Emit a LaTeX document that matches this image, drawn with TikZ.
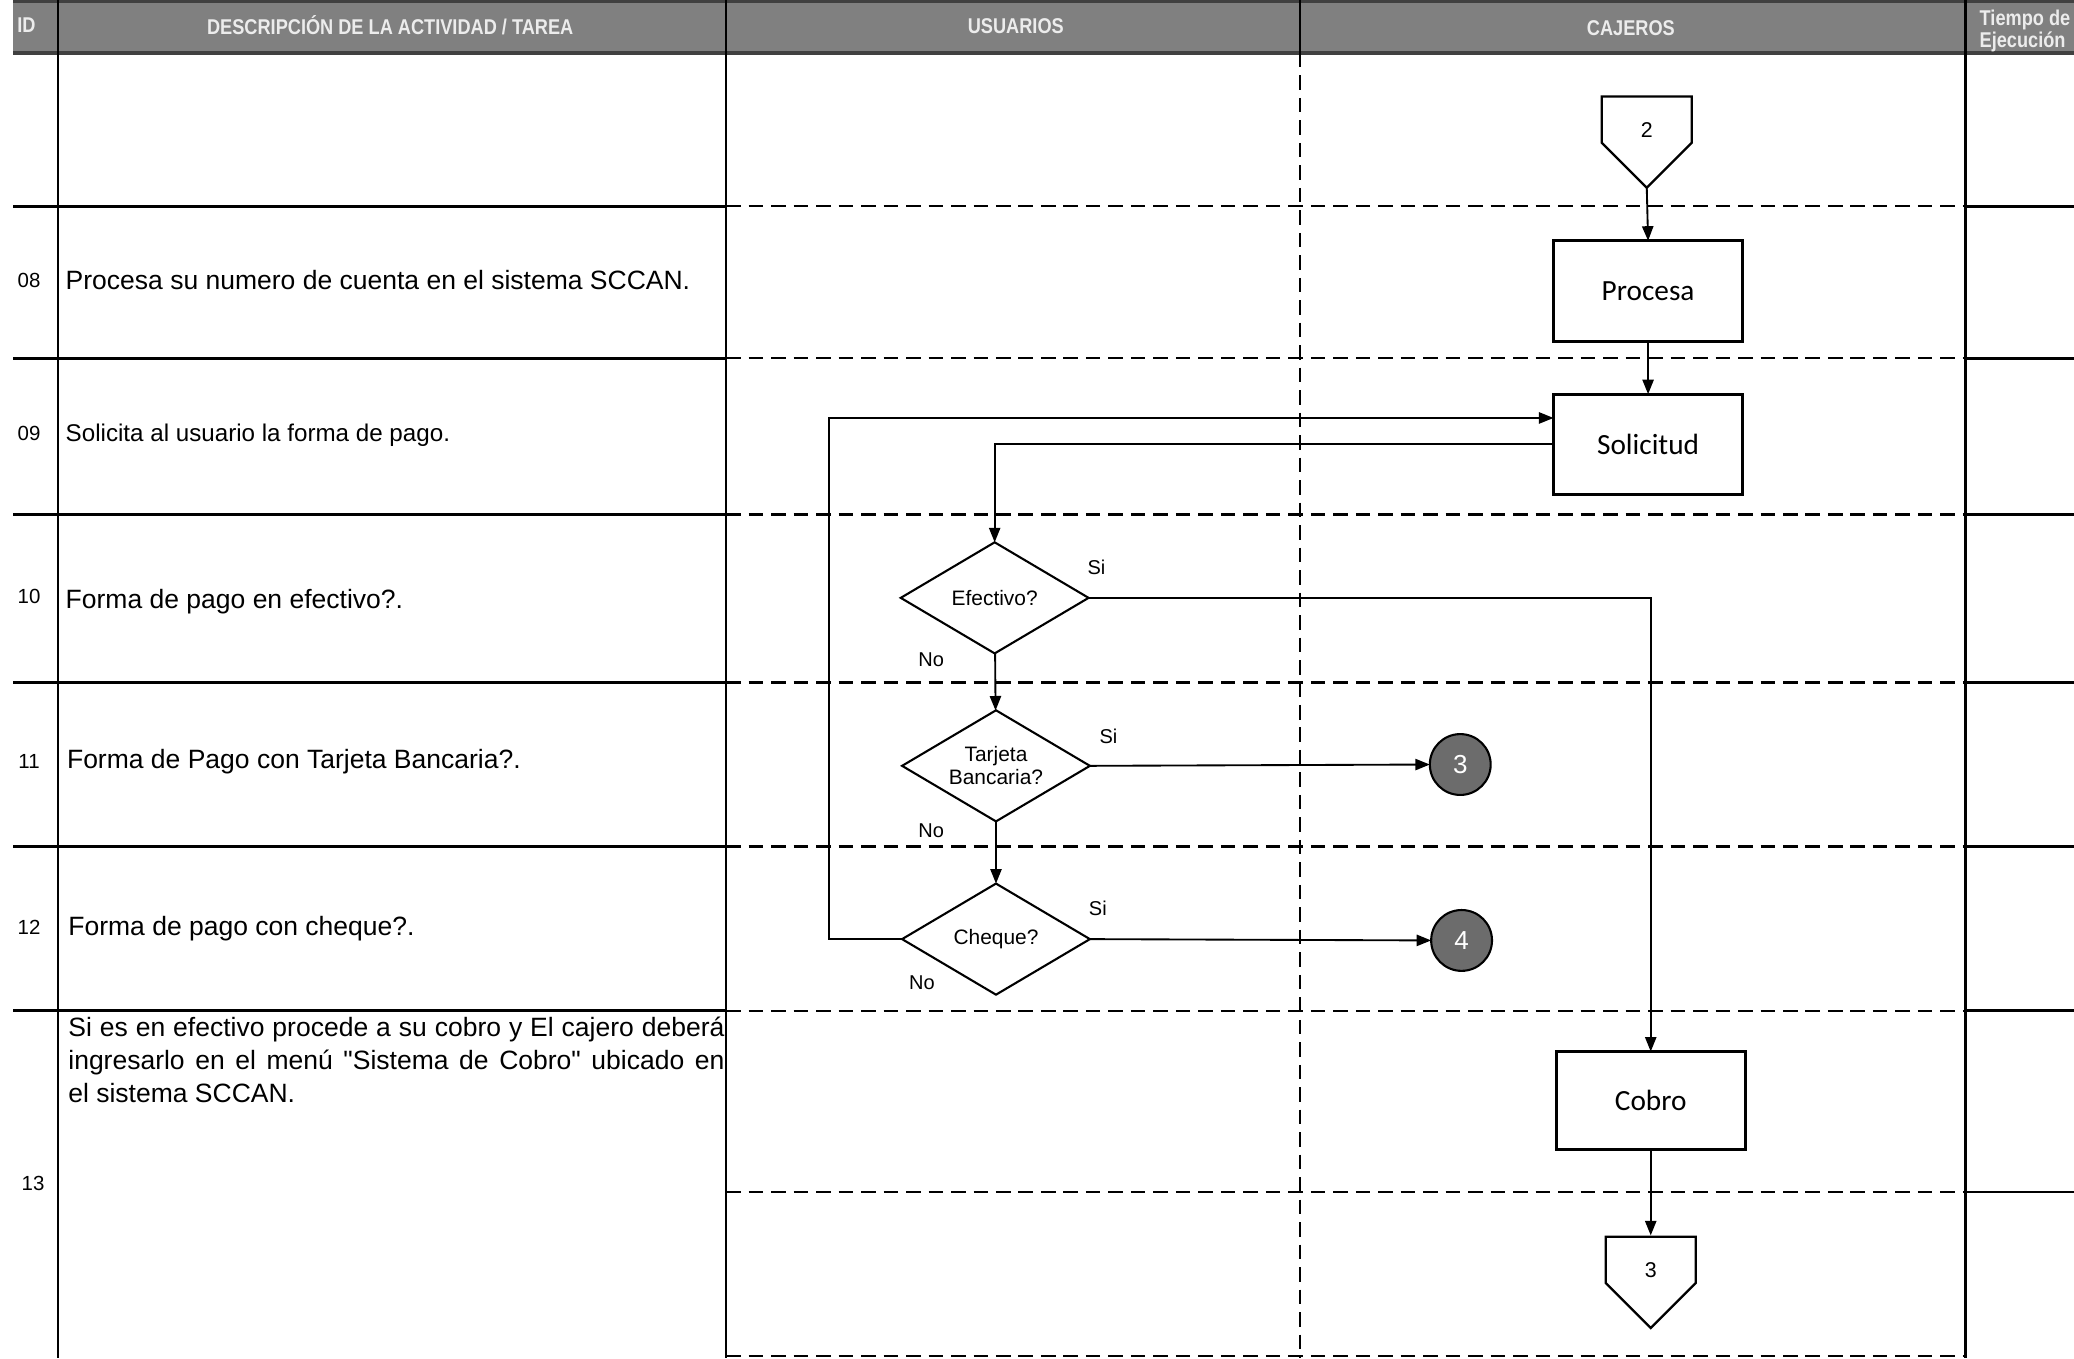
\documentclass[tikz,border=0pt]{standalone}
\usepackage{fontspec}
\setmainfont{Liberation Sans}
\newfontfamily\plainfont{Liberation Sans}
\newfontfamily\boxfont{Carlito}
\newfontfamily\headfont[FakeStretch=0.85]{Liberation Sans}
\usetikzlibrary{shapes.geometric,arrows.meta,positioning,calc}

\definecolor{headgray}{RGB}{128,128,128}
\definecolor{headtext}{RGB}{236,236,236}
\definecolor{connfill}{RGB}{108,108,108}

% straight double quote, kept out of the TeX ligature mapping
\newcommand{\dq}{{\plainfont"}}

% off-page connector: pentagon pointing down, label inside
\newcommand{\offpage}[4]{%
  \node[font=\fontsize{4.6}{5}\selectfont] (#1) at (#2,#3) {#4};
  \draw[line width=0.5pt] ($(#1)+(-34,-25)$) -- ++(68,0) -- ++(0,35) -- ++(-34,34) -- ++(-34,-34) -- cycle;
  \coordinate (#1tip) at ($(#1)+(0,44)$);
}

\tikzset{
  solidrule/.style={line width=0.5pt},
  dashrule/.style={line width=0.45pt, dash pattern=on 1.1mm off 0.6mm},
  flow/.style={line width=0.4pt, -{Triangle[length=1.1mm,width=0.85mm]}},
  task/.style={draw, line width=0.7pt, minimum width=14.3mm, minimum height=7.6mm, inner sep=0pt, outer sep=0pt, font=\boxfont\fontsize{6.3}{7}\selectfont},
  choice/.style={draw, diamond, aspect=1.7, line width=0.45pt, inner sep=0pt, outer sep=0pt, minimum width=14.2mm, minimum height=8.4mm, align=center, font=\fontsize{4.5}{4.9}\selectfont},
  jump/.style={draw, circle, fill=connfill, minimum size=4.6mm, inner sep=0pt, outer sep=0pt, line width=0.45pt, text=white, font=\fontsize{5.6}{6}\selectfont},
  answer/.style={inner sep=0pt, font=\fontsize{4.3}{5}\selectfont},
  idnum/.style={inner sep=0pt, font=\fontsize{4.4}{5}\selectfont},
  activity/.style={anchor=west, inner sep=0pt, font=\fontsize{5.7}{7.1}\selectfont},
  colhead/.style={inner sep=0pt, text=headtext, font=\headfont\bfseries\fontsize{4.6}{4.8}\selectfont},
}

\begin{document}
\begin{tikzpicture}[x=0.1mm,y=-0.1mm]
  \useasboundingbox (0,0) rectangle (1568,1027);
  \clip (0,0) rectangle (1568,1027);
  \fill[white] (0,0) rectangle (1568,1027);

  % header band
  \fill[headgray] (10,0) rectangle (1568,40);
  \draw[line width=0.8pt, black!75] (10,1) -- (1568,1);
  \draw[line width=0.8pt, black!75] (10,40) -- (1568,40);
  \node[colhead] (hid) at (20,19) {ID};
  \node[colhead] (hdesc) at (295,19) {DESCRIPCIÓN DE LA ACTIVIDAD / TAREA};
  \node[colhead] (husr) at (768,20) {USUARIOS};
  \node[colhead] (hcaj) at (1233,21) {CAJEROS};
  \node[colhead, anchor=north west, align=left] (htime) at (1496,7) {Tiempo de\\Ejecución};

  % columns
  \draw[solidrule] (44,0) -- (44,1027);
  \draw[solidrule] (549,0) -- (549,1027);
  \draw[solidrule] (1486,0) -- (1486,1027);
  \draw[solidrule] (983,0) -- (983,40);
  \draw[dashrule] (983,40) -- (983,1027);

  % rows
  \foreach \y in {156,271,389,516,640,764} {
    \draw[solidrule] (10,\y) -- (549,\y);
    \draw[dashrule] (549,\y) -- (1486,\y);
    \draw[solidrule] (1486,\y) -- (1568,\y);
  }
  \draw[dashrule] (549,901) -- (1486,901);
  \draw[solidrule] (1486,901) -- (1568,901);
  \draw[dashrule] (549,1025) -- (1486,1025);

  % activities
  \node[idnum] (id08) at (22,212) {08};
  \node[activity] (t08) at (49,212) {Procesa su numero de cuenta en el sistema SCCAN.};
  \node[idnum] (id09) at (22,328) {09};
  \node[activity, font=\fontsize{5.2}{6}\selectfont] (t09) at (49,329) {Solicita al usuario la forma de pago.};
  \node[idnum] (id10) at (22,451) {10};
  \node[activity] (t10) at (49,455) {Forma de pago en efectivo?.};
  \node[idnum] (id11) at (22,576) {11};
  \node[activity] (t11) at (50,576) {Forma de Pago con Tarjeta Bancaria?.};
  \node[idnum] (id12) at (22,701) {12};
  \node[activity] (t12) at (51,702) {Forma de pago con cheque?.};
  \node[idnum] (id13) at (25,895) {13};
  \node[activity, anchor=north west, text width=49.6mm, align=justify] (t13) at (51,768)
    {Si es en efectivo procede a su cobro y El cajero deberá\linebreak
     ingresarlo en el menú \dq Sistema de Cobro\dq{} ubicado en\linebreak
     el sistema SCCAN.};

  % flow
  \offpage{op2}{1245}{98}{2}
  \node[task] (procesa) at (1246,220) {Procesa};
  \node[task] (solicitud) at (1246,336) {Solicitud};
  \node[choice] (efectivo) at (752,452) {Efectivo?};
  \node[choice] (tarjeta) at (753,579) {Tarjeta\\Bancaria?};
  \node[choice] (cheque) at (753,710) {Cheque?};
  \node[jump] (c3) at (1104,578) {3};
  \node[jump] (c4) at (1105,711) {4};
  \node[task, minimum height=7.4mm] (cobro) at (1248,832) {Cobro};
  \offpage{op3}{1248}{960}{3}

  \node[answer] (si1) at (829,429) {Si};
  \node[answer] (no1) at (704,499) {No};
  \node[answer] (si2) at (838,557) {Si};
  \node[answer] (no2) at (704,628) {No};
  \node[answer] (si3) at (830,687) {Si};
  \node[answer] (no3) at (697,743) {No};

  \draw[flow] (op2tip) -- (procesa.north);
  \draw[flow] (procesa) -- (solicitud);
  \draw[flow] (solicitud.west) -| (efectivo.north);
  \draw[flow] (efectivo) -- (tarjeta);
  \draw[flow] (tarjeta) -- (cheque);
  \draw[flow] (efectivo.east) -| (cobro.north);
  \draw[flow] (tarjeta.east) -- (c3.west);
  \draw[flow] (cheque.east) -- (c4.west);
  \draw[flow] (cheque.west) -- ++(-55,0) |- ([yshift=2mm]solicitud.west);
  \draw[flow] (cobro.south) -- ($(op3)+(0,-26)$);
\end{tikzpicture}
\end{document}
